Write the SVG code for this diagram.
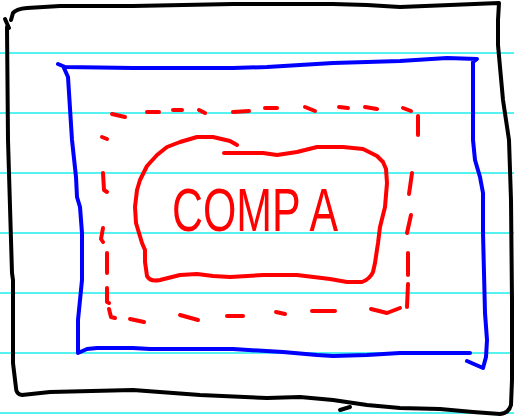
<svg xmlns="http://www.w3.org/2000/svg" width="514" height="418" viewBox="0 0 514 418">
<style>
.rule{stroke:#55f2f2;stroke-width:2;fill:none}
.ink{fill:none;stroke-width:4;stroke-linecap:round;stroke-linejoin:round}
.blk{stroke:#000}
.blu{stroke:#0000ff}
.red{stroke:#ff0000}
.lbl{font-family:"Liberation Sans",Arial,sans-serif;font-size:62px;fill:#ff0000}
</style>
<rect width="514" height="418" fill="#ffffff"/>
<g id="paper">
<line class="rule" x1="0" y1="53" x2="514" y2="53"/>
<line class="rule" x1="0" y1="113" x2="514" y2="113"/>
<line class="rule" x1="0" y1="173" x2="514" y2="173"/>
<line class="rule" x1="0" y1="233" x2="514" y2="233"/>
<line class="rule" x1="0" y1="293" x2="514" y2="293"/>
<line class="rule" x1="0" y1="353" x2="514" y2="353"/>
<line class="rule" x1="0" y1="413" x2="514" y2="413"/>
</g>
<g id="outer-frame">
<path class="ink blk" d="M9,28 L5,19"/>
<path class="ink blk" d="M11,20 L13,13 Q16,9 27,8 L60,6 L133,6 L233,4 L333,4 L367,5 L400,7 L450,5 L499,3 L498,20 L498,45 L503,100 L509,140 L511,200 L512,300 L512,380 L511,405 Q509,413 500,414 L473,412 L440,409 L400,408 L367,405 L333,400 L300,397 L267,398 L200,395 L133,390 L50,392 L22,395 Q16,394 16,388 L13,363 L13,280 L12,273 L8,140 L7,27"/>
<path class="ink blk" d="M340,410 L350,407"/>
</g>
<g id="blue-box">
<path class="ink blu" d="M58,64 L65,67 L133,68 L233,68 L267,67 L300,65 L333,63 L367,62 L400,61 L447,58 L477,59 L473,62 L473,100 L473,140 L475,160 L480,177 L483,193 L483,233 L484,273 L485,313 L487,340 L486,357 L483,368 L467,361"/>
<path class="ink blu" d="M470,353 L400,353 L367,355 L333,356 L317,355 L283,352 L233,349 L150,349 L133,348 L97,348 L87,349 L78,353 L78,320 L82,280 L82,233 L80,207 L77,197 L76,177 L72,140 L68,77 L64,68"/>
</g>
<g id="dashed-box">
<path class="ink red" d="M112,114 L125,117"/>
<path class="ink red" d="M147,112 L159,112"/>
<path class="ink red" d="M173,110 L182,110"/>
<path class="ink red" d="M199,110 L205,113"/>
<path class="ink red" d="M233,112 L249,111"/>
<path class="ink red" d="M265,108 L277,108"/>
<path class="ink red" d="M305,107 L315,111"/>
<path class="ink red" d="M339,107 L348,108"/>
<path class="ink red" d="M365,107 L377,109"/>
<path class="ink red" d="M403,108 L411,111"/>
<path class="ink red" d="M418,116 L418,135"/>
<path class="ink red" d="M412,173 L409,194"/>
<path class="ink red" d="M411,215 L407,233"/>
<path class="ink red" d="M408,253 L408,275"/>
<path class="ink red" d="M408,284 L407,307"/>
<path class="ink red" d="M400,308 L387,313 L371,309"/>
<path class="ink red" d="M335,311 L312,311"/>
<path class="ink red" d="M285,314 L276,312"/>
<path class="ink red" d="M243,316 L227,316"/>
<path class="ink red" d="M198,320 L180,315"/>
<path class="ink red" d="M144,322 L130,319"/>
<path class="ink red" d="M109,309 L111,317 L115,318"/>
<path class="ink red" d="M107,288 L107,302 L109,303"/>
<path class="ink red" d="M107,253 L107,273"/>
<path class="ink red" d="M103,228 L101,239 L103,242"/>
<path class="ink red" d="M103,173 L104,190 L107,192"/>
<path class="ink red" d="M102,137 L107,139"/>
</g>
<g id="comp-a">
<path class="ink red" d="M224,153 L263,153 L277,155 L297,152 L317,147 L343,147 L363,149 L377,156 L383,162 L386,169 L387,183 L385,207 L380,227 L378,243 L375,263 L373,272 Q370,279 362,282 L347,282 L330,279 L297,275 L263,275 L230,277 L213,276 L197,274 L180,275 L160,280 Q150,282 147,276 L145,262 L145,250 L142,243 L136,223 L135,207 L137,190 L140,180 L147,166 L157,155 L167,147 L180,142 L197,137 L213,137 L230,141 L237,145"/>
<text class="lbl" x="172" y="231" textLength="166" lengthAdjust="spacingAndGlyphs">COMP A</text>
</g>
</svg>
